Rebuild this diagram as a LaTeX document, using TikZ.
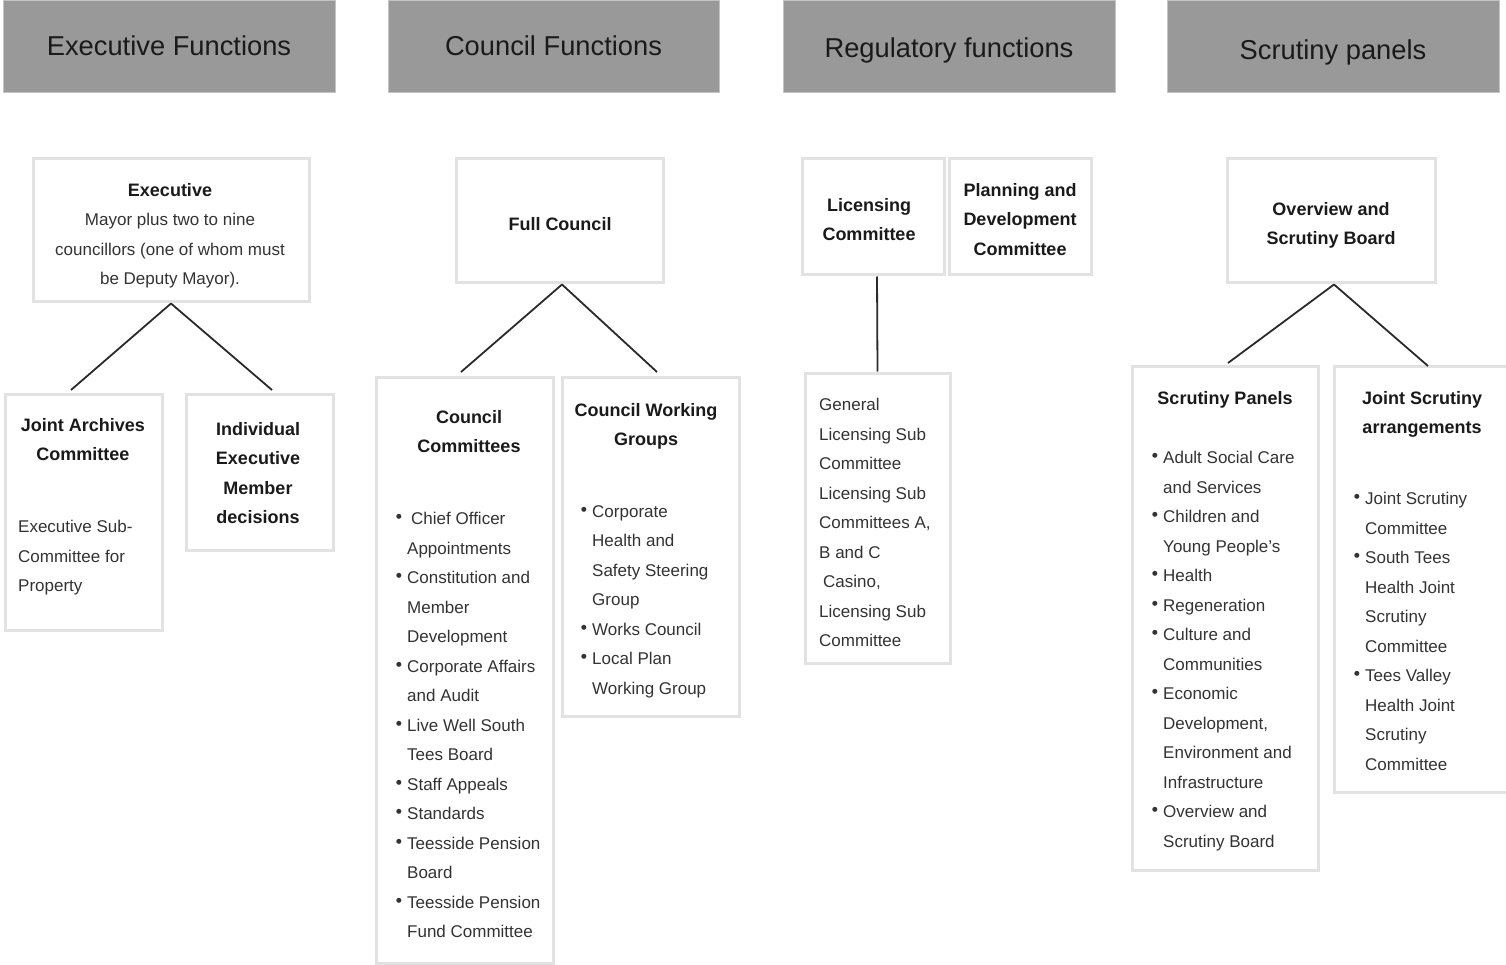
\documentclass[tikz,border=0pt]{standalone}
\usepackage{fontspec}
\setmainfont{Liberation Sans}
\newfontfamily\dejavu{DejaVu Sans}
\definecolor{hdrfill}{HTML}{999999}
\definecolor{hdrline}{HTML}{C4C4C4}
\definecolor{boxline}{HTML}{E2E2E2}
\definecolor{bodytext}{HTML}{333333}
\definecolor{titletext}{HTML}{1A1A1A}
\definecolor{conline}{HTML}{2A2A2A}
\newcommand\bul{\makebox[11pt][l]{\raisebox{6pt}{\dejavu\fontsize{6.5}{6.5}\selectfont ●}}}
\newcommand\ind{\hspace*{11pt}}
\tikzset{
  hdr/.style={draw=hdrline, line width=1pt, fill=hdrfill, minimum width=332pt, minimum height=92pt, inner sep=0pt},
  hdrtxt/.style={inner sep=0pt, text=titletext, text height=18pt, text depth=5pt, font=\fontsize{27.3}{30}\selectfont},
  box/.style={draw=boxline, line width=3pt, fill=white, inner sep=0pt},
  txt/.style={inner sep=0pt, text=bodytext, font=\fontsize{17}{29.5}\selectfont},
  ttl/.style={inner sep=0pt, align=center, text=titletext, font=\bfseries\fontsize{18}{29.5}\selectfont},
  con/.style={draw=conline, line width=1.8pt},
}
\begin{document}
\begin{tikzpicture}[x=1pt, y=-1pt]
\useasboundingbox (0,0) rectangle (1506,965);
% headers
\node[hdr] (h1) at (169,47) {};
\node[hdr, minimum width=331pt] (h2) at (553.5,47) {};
\node[hdr] (h3) at (949,47) {};
\node[hdr] (h4) at (1333,47) {};
\node[hdrtxt] (h1t) at (169,48.8) {Executive Functions};
\node[hdrtxt] (h2t) at (553.5,48.8) {Council Functions};
\node[hdrtxt] (h3t) at (949,50.8) {Regulatory functions};
\node[hdrtxt] (h4t) at (1333,52.8) {Scrutiny panels};

% boxes
\node[box, minimum width=276pt, minimum height=143pt] (exec) at (171,230.5) {};
\node[box, minimum width=157pt, minimum height=236pt] (jac) at (83.5,512) {};
\node[box, minimum width=147pt, minimum height=156pt] (iem) at (259.5,472) {};
\node[box, minimum width=207pt, minimum height=124pt] (fc) at (559.5,221) {};
\node[box, minimum width=177pt, minimum height=586pt] (cc) at (464.5,670) {};
\node[box, minimum width=177pt, minimum height=339pt] (cwg) at (650.5,546.5) {};
\node[box, minimum width=142pt, minimum height=116pt] (lic) at (873,217) {};
\node[box, minimum width=142pt, minimum height=116pt] (pdc) at (1020,217) {};
\node[box, minimum width=145pt, minimum height=290pt] (gls) at (877.5,518) {};
\node[box, minimum width=208pt, minimum height=124pt] (osb) at (1331,221) {};
\node[box, minimum width=186pt, minimum height=504pt] (sp) at (1225,618) {};
\node[box, minimum width=176pt, minimum height=426pt] (jsa) at (1422,579) {};

% box texts
\node[txt, align=center, anchor=north] (exect) at (170,183)
  {{\color{titletext}\bfseries\fontsize{18}{29.5}\selectfont Executive}\\Mayor plus two to nine\\councillors (one of whom must\\be Deputy Mayor).};
\node[ttl, anchor=north] (iemt) at (258,422) {Individual\\Executive\\Member\\decisions};
\node[ttl, anchor=north] (fct) at (560,217) {Full Council};
\node[ttl, anchor=north] (lict) at (869,198) {Licensing\\Committee};
\node[ttl, anchor=north] (pdct) at (1020,183) {Planning and\\Development\\Committee};
\node[ttl, anchor=north] (osbt) at (1331,202) {Overview and\\Scrutiny Board};

\node[ttl, anchor=north] (jact) at (83,418) {Joint Archives\\Committee};
\node[txt, align=left, anchor=north west] (jacb) at (18,520) {Executive Sub-\\Committee for\\Property};

\node[ttl, anchor=north] (cct) at (469,410) {Council\\Committees};
\node[txt, align=left, anchor=north west] (ccb) at (396,512)
  {\bul\hspace{4pt}Chief Officer\\\ind Appointments\\\bul Constitution and\\\ind Member\\\ind Development\\
   \bul Corporate Affairs\\\ind and Audit\\\bul Live Well South\\\ind Tees Board\\\bul Staff Appeals\\
   \bul Standards\\\bul Teesside Pension\\\ind Board\\\bul Teesside Pension\\\ind Fund Committee};

\node[ttl, anchor=north] (cwgt) at (646,403) {Council Working\\Groups};
\node[txt, align=left, anchor=north west] (cwgb) at (581,505)
  {\bul Corporate\\\ind Health and\\\ind Safety Steering\\\ind Group\\\bul Works Council\\\bul Local Plan\\\ind Working Group};

\node[txt, align=left, anchor=north west] (glsb) at (819,398)
  {General\\Licensing Sub\\Committee\\Licensing Sub\\Committees A,\\B and C\\\hspace*{4pt}Casino,\\Licensing Sub\\Committee};

\node[ttl, anchor=north] (spt) at (1225,391) {Scrutiny Panels};
\node[txt, align=left, anchor=north west] (spb) at (1152,451)
  {\bul Adult Social Care\\\ind and Services\\\bul Children and\\\ind Young People{\char"27}s\\\bul Health\\\bul Regeneration\\
   \bul Culture and\\\ind Communities\\\bul Economic\\\ind Development,\\\ind Environment and\\\ind Infrastructure\\
   \bul Overview and\\\ind Scrutiny Board};

\node[ttl, anchor=north] (jsat) at (1422,391) {Joint Scrutiny\\arrangements};
\node[txt, align=left, anchor=north west] (jsab) at (1354,492)
  {\bul Joint Scrutiny\\\ind Committee\\\bul South Tees\\\ind Health Joint\\\ind Scrutiny\\\ind Committee\\
   \bul Tees Valley\\\ind Health Joint\\\ind Scrutiny\\\ind Committee};

% connector ends
\coordinate (jacT) at (71,390);
\coordinate (iemT) at (272,390);
\coordinate (ccT) at (461,372);
\coordinate (cwgT) at (657,372);
\coordinate (spT) at (1228,363);
\coordinate (jsaT) at (1428,366);

\draw[con] (exec.south) -- (jacT);
\draw[con] (exec.south) -- (iemT);
\draw[con] ([xshift=2.5pt]fc.south) -- (ccT);
\draw[con] ([xshift=2.5pt]fc.south) -- (cwgT);
\draw[con] ([xshift=4pt]lic.south) -- (gls.north);
\draw[con] ([xshift=3pt]osb.south) -- (spT);
\draw[con] ([xshift=3pt]osb.south) -- (jsaT);
\end{tikzpicture}
\end{document}
